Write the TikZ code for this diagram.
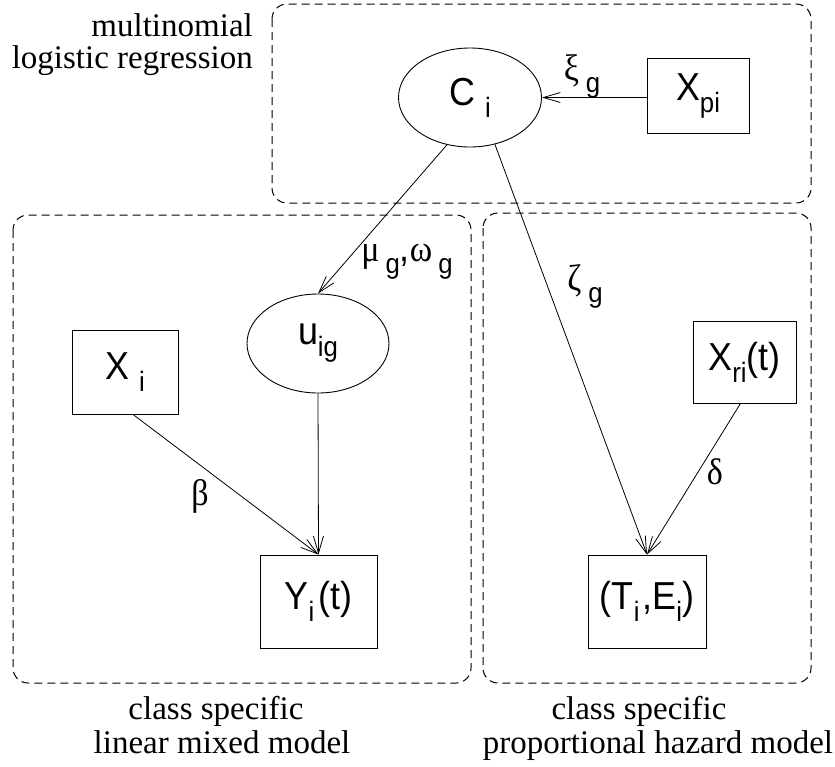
\documentclass[tikz,border=0pt]{standalone}
\usepackage{fontspec}
\setmainfont{Liberation Serif}
\newfontfamily\hv[FakeStretch=0.92]{Liberation Sans}
\newfontfamily\grk[FakeStretch=0.92]{Liberation Serif}
\usetikzlibrary{arrows.meta,shapes.geometric}
\newcommand\sbs[1]{\raisebox{-12pt}{\fontsize{28}{28}\selectfont #1}}
\newcommand\gk[1]{{\grk\fontsize{37}{37}\selectfont #1}}
\tikzset{
  grp/.style={draw, dash pattern=on 8pt off 5pt, rounded corners=15pt, line width=1pt},
  var/.style={draw, line width=0.9pt, font=\hv\fontsize{39}{39}\selectfont, inner sep=0pt},
  vbox/.style={var, rectangle},
  oval/.style={var, ellipse},
  arr/.style={-{Straight Barb[length=17pt,width=10pt]}, line width=0.8pt},
  lab/.style={font=\hv\fontsize{39}{39}\selectfont, inner sep=0pt},
  capt/.style={font=\fontsize{33}{33}\selectfont, inner sep=0pt}
}
\begin{document}
\begin{tikzpicture}[x=1pt,y=-1pt]
\fill[white] (0,0) rectangle (835,766);
\useasboundingbox (0,0) rectangle (835,766);
% group frames
\draw[grp] (272,4) rectangle (811,203);
\draw[grp] (13,215) rectangle (471,683);
\draw[grp] (483,213) rectangle (811,683);
% variables
\node[oval, minimum width=143pt, minimum height=99pt] (ci) at (470,97.5) {C \sbs{i}};
\node[vbox, minimum width=102pt, minimum height=75pt] (xpi) at (698,95.5) {X\sbs{pi}};
\node[oval, minimum width=142pt, minimum height=99pt] (uig) at (318,343.5) {u\sbs{ig}};
\node[vbox, minimum width=106pt, minimum height=84pt] (xi) at (125,372) {X \sbs{i}};
\node[vbox, minimum width=117pt, minimum height=93pt] (yi) at (318.5,601.5) {Y\sbs{i}\hspace{4pt}(t)};
\node[vbox, minimum width=118pt, minimum height=93pt] (te) at (647,601.5) {(T\sbs{i}\hspace{3pt},E\sbs{i})};
\node[vbox, minimum width=103pt, minimum height=82pt] (xri) at (744.5,362) {X\sbs{ri}(t)};
% connectors
\draw[arr] (xpi.west |- ci.center) -- (ci.east);
\draw[arr] (ci.244) -- (uig.north);
\draw[arr] (ci.298) -- (te.north);
\draw[arr] (uig.south) -- (yi.north);
\draw[arr] ([xshift=8pt]xi.south) -- (yi.north);
\draw[arr] ([xshift=-4pt]xri.south) -- (te.north);
% connector labels
\node[lab] (lxi) at (582,76) {\gk{ξ}\hspace{7pt}\sbs{g}};
\node[lab] (lmu) at (407,262) {\gk{μ}\hspace{6pt}\sbs{g},\gk{ω}\hspace{6pt}\sbs{g}};
\node[lab] (lze) at (585,286) {\gk{ζ}\hspace{7pt}\sbs{g}};
\node[lab] (lbe) at (200,496) {\gk{β}};
\node[lab] (lde) at (715,472) {\gk{δ}};
% captions
\node[capt, anchor=base east] (m1) at (253,36) {multinomial};
\node[capt, anchor=base east] (m2) at (253,68) {logistic regression};
\node[capt, anchor=base] (l1) at (216,719) {class specific};
\node[capt, anchor=base] (l2) at (222,753) {linear mixed model};
\node[capt, anchor=base] (r1) at (639,719) {class specific};
\node[capt, anchor=base] (r2) at (658,753) {proportional hazard model};
\end{tikzpicture}
\end{document}
